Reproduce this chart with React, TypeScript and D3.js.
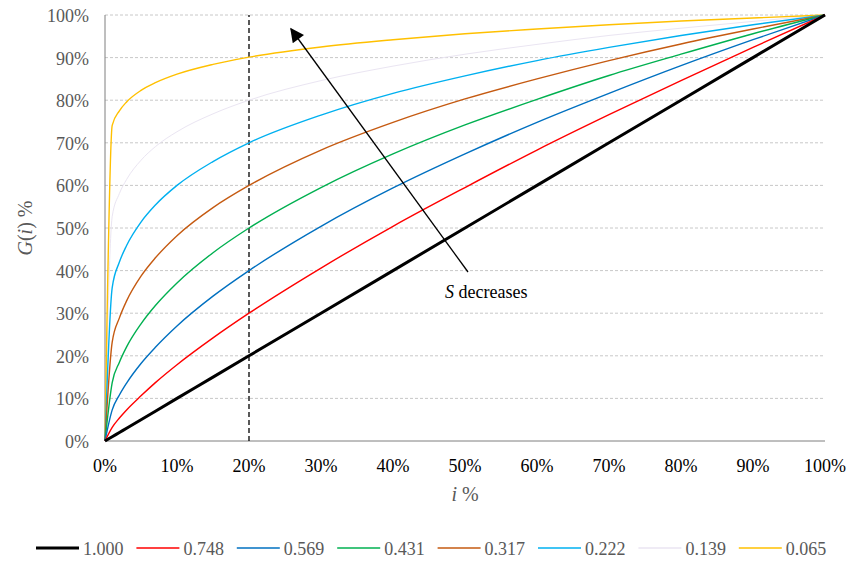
import { useEffect, useRef } from 'react';
import * as d3 from 'd3';

// share of i (%) at which each curve was read
const iPoints = [0, 1, 2, 3, 5, 7, 10, 15, 20, 30, 40, 50, 60, 70, 80, 90, 100];

const sLabels = ['1.000', '0.748', '0.569', '0.431', '0.317', '0.222', '0.139', '0.065'];
const colors = ['#000000', '#FF0000', '#0070C0', '#00B050', '#C55A11', '#00B0F0', '#EAE5F2', '#FFC000'];

// G(i) %
const g1000 = [0, 1, 2, 3, 5, 7, 10, 15, 20, 30, 40, 50, 60, 70, 80, 90, 100];
const g0748 = [0, 3.2, 5.4, 7.3, 10.6, 13.7, 17.9, 24.2, 30.0, 40.6, 50.4, 59.5, 68.3, 76.6, 84.6, 92.4, 100];
const g0569 = [0, 7.3, 10.8, 13.6, 18.2, 22.0, 27.0, 34.0, 40.0, 50.4, 59.4, 67.4, 74.8, 81.6, 88.1, 94.2, 100];
const g0431 = [0, 13.7, 18.5, 22.1, 27.5, 31.8, 37.1, 44.2, 50.0, 59.5, 67.4, 74.2, 80.2, 85.8, 90.8, 95.6, 100];
const g0317 = [0, 23.2, 28.9, 32.9, 38.7, 43.0, 48.2, 54.8, 60.0, 68.3, 74.8, 80.3, 85.0, 89.3, 93.2, 96.7, 100];
const g0222 = [0, 36.0, 42.0, 45.9, 51.4, 55.4, 60.0, 65.6, 70.0, 76.5, 81.6, 85.7, 89.3, 92.4, 95.2, 97.7, 100];
const g0139 = [0, 52.7, 58.1, 61.4, 65.9, 69.1, 72.6, 76.8, 80.0, 84.6, 88.0, 90.8, 93.1, 95.2, 96.9, 98.5, 100];
const g0065 = [0, 74.1, 77.5, 79.6, 82.3, 84.1, 86.1, 88.4, 90.1, 92.5, 94.2, 95.6, 96.7, 97.7, 98.6, 99.3, 100];

const seriesValues = [g1000, g0748, g0569, g0431, g0317, g0222, g0139, g0065];
const ticks = [0, 10, 20, 30, 40, 50, 60, 70, 80, 90, 100];

export default function App() {
  const svgRef = useRef<SVGSVGElement>(null);

  useEffect(() => {
    const svg = d3.select(svgRef.current);
    svg.selectAll('*').remove();
    svg.style('font-family', "'Liberation Serif', 'Times New Roman', Times, serif");

    const x = d3.scaleLinear().domain([0, 100]).range([105, 825]);
    const y = d3.scaleLinear().domain([0, 100]).range([441, 15]);

    // gridlines
    svg.append('g').selectAll('line').data(ticks.slice(1)).join('line')
      .attr('x1', x(0)).attr('x2', x(100))
      .attr('y1', d => y(d)).attr('y2', d => y(d))
      .attr('stroke', '#c8c8c8').attr('stroke-width', 1).attr('stroke-dasharray', '3,2');

    // axes
    svg.append('line').attr('x1', x(0)).attr('x2', x(0)).attr('y1', y(0)).attr('y2', y(100))
      .attr('stroke', '#7f7f7f').attr('stroke-width', 1);
    svg.append('line').attr('x1', x(0)).attr('x2', x(100)).attr('y1', y(0)).attr('y2', y(0))
      .attr('stroke', '#7f7f7f').attr('stroke-width', 1);

    // tick labels
    svg.append('g').selectAll('text').data(ticks).join('text')
      .attr('x', 89).attr('y', d => y(d) + 7)
      .attr('text-anchor', 'end').attr('font-size', 18)
      .attr('fill', '#595959').text(d => d + '%');
    svg.append('g').selectAll('text').data(ticks).join('text')
      .attr('x', d => x(d)).attr('y', 472)
      .attr('text-anchor', 'middle').attr('font-size', 18)
      .attr('fill', '#000').text(d => d + '%');

    // dashed marker at 20%
    svg.append('line').attr('x1', x(20)).attr('x2', x(20)).attr('y1', y(0)).attr('y2', y(100))
      .attr('stroke', '#000').attr('stroke-width', 1.3).attr('stroke-dasharray', '5,3');

    // curves
    const line = d3.line<number>()
      .x((_, k) => x(iPoints[k]))
      .y(d => y(d))
      .curve(d3.curveMonotoneX);
    const order = [6, 7, 5, 4, 3, 2, 1, 0];
    order.forEach(k => {
      svg.append('path').datum(seriesValues[k])
        .attr('d', line)
        .attr('fill', 'none')
        .attr('stroke', colors[k])
        .attr('stroke-width', k === 0 ? 3 : k === 6 ? 1 : 1.4);
    });

    // arrow annotation
    svg.append('defs').append('marker')
      .attr('id', 'ah').attr('viewBox', '0 0 10 10').attr('refX', 9).attr('refY', 5)
      .attr('markerWidth', 16).attr('markerHeight', 14).attr('markerUnits', 'userSpaceOnUse')
      .attr('orient', 'auto')
      .append('path').attr('d', 'M0,0 L10,5 L0,10 Z').attr('fill', '#000');
    svg.append('line')
      .attr('x1', 468).attr('y1', 272).attr('x2', 291).attr('y2', 29)
      .attr('stroke', '#000').attr('stroke-width', 1.3)
      .attr('marker-end', 'url(#ah)');

    const ann = svg.append('text').attr('x', 445).attr('y', 298)
      .attr('font-size', 18).attr('fill', '#000');
    ann.append('tspan').attr('font-style', 'italic').text('S');
    ann.append('tspan').text(' decreases');

    // axis titles
    const xt = svg.append('text').attr('x', x(50)).attr('y', 501)
      .attr('text-anchor', 'middle').attr('font-size', 20).attr('fill', '#595959');
    xt.append('tspan').attr('font-style', 'italic').text('i');
    xt.append('tspan').text(' %');

    const yt = svg.append('text')
      .attr('transform', 'translate(32,228) rotate(-90)')
      .attr('text-anchor', 'middle').attr('font-size', 20).attr('fill', '#595959');
    yt.append('tspan').attr('font-style', 'italic').text('G');
    yt.append('tspan').text('(');
    yt.append('tspan').attr('font-style', 'italic').text('i');
    yt.append('tspan').text(') %');

    // legend
    const lg = svg.append('g').selectAll('g').data(sLabels).join('g')
      .attr('transform', (_, k) => `translate(${36 + k * 100.4},548)`);
    lg.append('line').attr('x1', 0).attr('x2', 43).attr('y1', 0).attr('y2', 0)
      .attr('stroke', (_, k) => colors[k])
      .attr('stroke-width', (_, k) => (k === 0 ? 3 : 1.6));
    lg.append('text').attr('x', 47).attr('y', 7)
      .attr('font-size', 18).attr('fill', '#595959')
      .text(d => d);
  }, []);

  return (
    <div>
      <svg ref={svgRef} width={861} height={564} style={{ position: 'absolute', left: 0, top: 0 }} />
    </div>
  );
}
